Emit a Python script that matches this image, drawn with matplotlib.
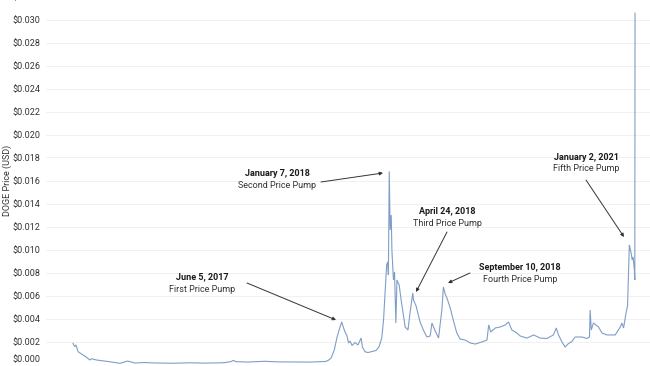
import matplotlib
matplotlib.use("Agg")
import matplotlib.pyplot as plt
import pandas as pd

# Daily DOGE closing prices (USD), key points of the series
dates = [
    "2014-01-31", "2014-02-07", "2014-02-13", "2014-02-23", "2014-03-11", "2014-04-02",
    "2014-04-17", "2014-04-25", "2014-05-18", "2014-07-17", "2014-09-01", "2014-10-06",
    "2014-11-08", "2014-12-20", "2015-02-15", "2015-05-01", "2015-07-20", "2015-09-15",
    "2015-11-20", "2015-12-20", "2016-01-20", "2016-01-29", "2016-02-10", "2016-04-01",
    "2016-06-20", "2016-08-15", "2016-11-01", "2017-01-10", "2017-03-01", "2017-03-22",
    "2017-04-04", "2017-04-18", "2017-05-02", "2017-05-15", "2017-05-27", "2017-06-05",
    "2017-06-12", "2017-06-20", "2017-06-29", "2017-07-06", "2017-07-13", "2017-07-22",
    "2017-08-04", "2017-08-18", "2017-09-01", "2017-09-07", "2017-09-19", "2017-10-02",
    "2017-10-21", "2017-11-08", "2017-11-21", "2017-12-04", "2017-12-12", "2017-12-16",
    "2017-12-21", "2017-12-26", "2017-12-31", "2018-01-03", "2018-01-07", "2018-01-11",
    "2018-01-16", "2018-01-19", "2018-01-26", "2018-01-31", "2018-02-06", "2018-02-11",
    "2018-02-21", "2018-03-02", "2018-03-13", "2018-03-20", "2018-04-02", "2018-04-12",
    "2018-04-24", "2018-04-27", "2018-05-09", "2018-05-27", "2018-06-11", "2018-06-27",
    "2018-07-12", "2018-07-20", "2018-08-04", "2018-08-19", "2018-09-03", "2018-09-10",
    "2018-09-18", "2018-09-26", "2018-10-11", "2018-10-26", "2018-11-10", "2018-11-25",
    "2018-12-18", "2019-01-10", "2019-02-02", "2019-03-04", "2019-03-27", "2019-04-04",
    "2019-04-13", "2019-05-04", "2019-05-26", "2019-06-18", "2019-07-03", "2019-07-18",
    "2019-08-10", "2019-08-25", "2019-09-25", "2019-10-25", "2019-11-24", "2019-12-24",
    "2020-01-23", "2020-02-05", "2020-02-15", "2020-03-02", "2020-03-16", "2020-04-01",
    "2020-04-16", "2020-05-01", "2020-06-01", "2020-06-23", "2020-07-05", "2020-07-08",
    "2020-07-13", "2020-07-23", "2020-08-15", "2020-08-31", "2020-09-22", "2020-10-30",
    "2020-11-22", "2020-11-29", "2020-12-07", "2020-12-19", "2020-12-25", "2020-12-31",
    "2021-01-02", "2021-01-10", "2021-01-15", "2021-01-19", "2021-01-25", "2021-01-27",
    "2021-01-28",
]
prices = [
    0.00184, 0.00155, 0.00170, 0.00111, 0.00091, 0.00063,
    0.00039, 0.00050, 0.00039, 0.00024, 0.00010, 0.00030,
    0.00013, 0.00017, 0.00013, 0.00011, 0.00015, 0.00012,
    0.00014, 0.00016, 0.00026, 0.00036, 0.00025, 0.00021,
    0.00028, 0.00023, 0.00022, 0.00021, 0.00024, 0.00026,
    0.00035, 0.00057, 0.00126, 0.00239, 0.00318, 0.00370,
    0.00326, 0.00283, 0.00248, 0.00187, 0.00204, 0.00165,
    0.00191, 0.00170, 0.00230, 0.00152, 0.00111, 0.00104,
    0.00113, 0.00122, 0.00152, 0.00230, 0.00387, 0.00518,
    0.00692, 0.00866, 0.00892, 0.00779, 0.01680, 0.01170,
    0.01300, 0.00996, 0.00735, 0.00805, 0.00361, 0.00735,
    0.00692, 0.00561, 0.00422, 0.00326, 0.00300, 0.00457,
    0.00622, 0.00561, 0.00509, 0.00370, 0.00300, 0.00239,
    0.00248, 0.00361, 0.00291, 0.00230, 0.00474, 0.00674,
    0.00613, 0.00579, 0.00492, 0.00378, 0.00274, 0.00222,
    0.00213, 0.00187, 0.00178, 0.00196, 0.00213, 0.00344,
    0.00283, 0.00318, 0.00326, 0.00344, 0.00370, 0.00300,
    0.00274, 0.00248, 0.00230, 0.00257, 0.00230, 0.00226,
    0.00257, 0.00318, 0.00257, 0.00196, 0.00152, 0.00183,
    0.00200, 0.00239, 0.00239, 0.00226, 0.00239, 0.00474,
    0.00300, 0.00361, 0.00326, 0.00274, 0.00257, 0.00257,
    0.00326, 0.00361, 0.00318, 0.00457, 0.00509, 0.00909,
    0.01040, 0.00970, 0.00909, 0.00935, 0.00822, 0.00735,
    0.03055,
]

y_ticks = [i * 0.002 for i in range(17)]
y_tick_labels = [f"${v:.3f}" for v in y_ticks]

pump_titles = ["June 5, 2017", "January 7, 2018", "April 24, 2018",
               "September 10, 2018", "January 2, 2021"]
pump_subtitles = ["First Price Pump", "Second Price Pump", "Third Price Pump",
                  "Fourth Price Pump", "Fifth Price Pump"]

plt.rcParams["font.family"] = ["Roboto", "DejaVu Sans"]

W, H = 650, 366
fig = plt.figure(figsize=(W / 100, H / 100), dpi=100)
fig.patch.set_facecolor("white")

# plot area: px 46..650 horizontally, zero at px 364.5, 0.032 just above the top edge
ax = fig.add_axes([46 / W, (H - 364.5) / H, (650 - 46) / W, 368 / H])
ax.set_facecolor("white")

x = pd.to_datetime(dates)
ax.plot(x, prices, color="#7f9ec6", lw=0.8, solid_joinstyle="miter")

ax.set_ylim(0, 0.032)
ax.set_xlim(pd.Timestamp("2013-09-30"), pd.Timestamp("2021-04-06"))
ax.set_yticks(y_ticks)
ax.set_yticklabels(y_tick_labels)
ax.tick_params(axis="y", length=0, pad=4, labelsize=6.5, labelcolor="#333333")
ax.tick_params(axis="x", length=0, labelbottom=False)
ax.grid(axis="y", color="#efefef", lw=0.6)
ax.set_axisbelow(True)
for s in ax.spines.values():
    s.set_visible(False)

# lift the bottom label so it sits inside the canvas
ax.get_yticklabels()[0].set_va("bottom")

ax.set_ylabel("DOGE Price (USD)", fontsize=6.5, color="#333333")
ax.yaxis.set_label_coords(-(46 - 12.5) / (650 - 46), 0.5)

# annotation layout in image pixels (y measured from the top)
text_centres = [(202, 277), (277, 174), (447, 211), (520, 267), (586, 157)]
arrow_starts = [(247, 283), (321, 182), (447, 232), (470, 273), (586, 180)]
arrow_tips = [(336, 320), (383, 173), (416, 292), (448, 283), (624, 237)]

for title, sub, (tx, ty), (sx, sy), (ex, ey) in zip(
        pump_titles, pump_subtitles, text_centres, arrow_starts, arrow_tips):
    fig.text(tx / W, (H - ty) / H, title, ha="center", va="center",
             fontsize=6.5, fontweight="bold", color="#1a1a1a")
    fig.text(tx / W, (H - ty - 12) / H, sub, ha="center", va="center",
             fontsize=6.5, color="#333333")
    ax.annotate("", xy=(ex, H - ey), xycoords="figure pixels",
                xytext=(sx, H - sy), textcoords="figure pixels",
                arrowprops=dict(arrowstyle="-|>", color="#333333", lw=0.7,
                                mutation_scale=5, shrinkA=0, shrinkB=0))

fig.savefig("out.png", dpi=100)
